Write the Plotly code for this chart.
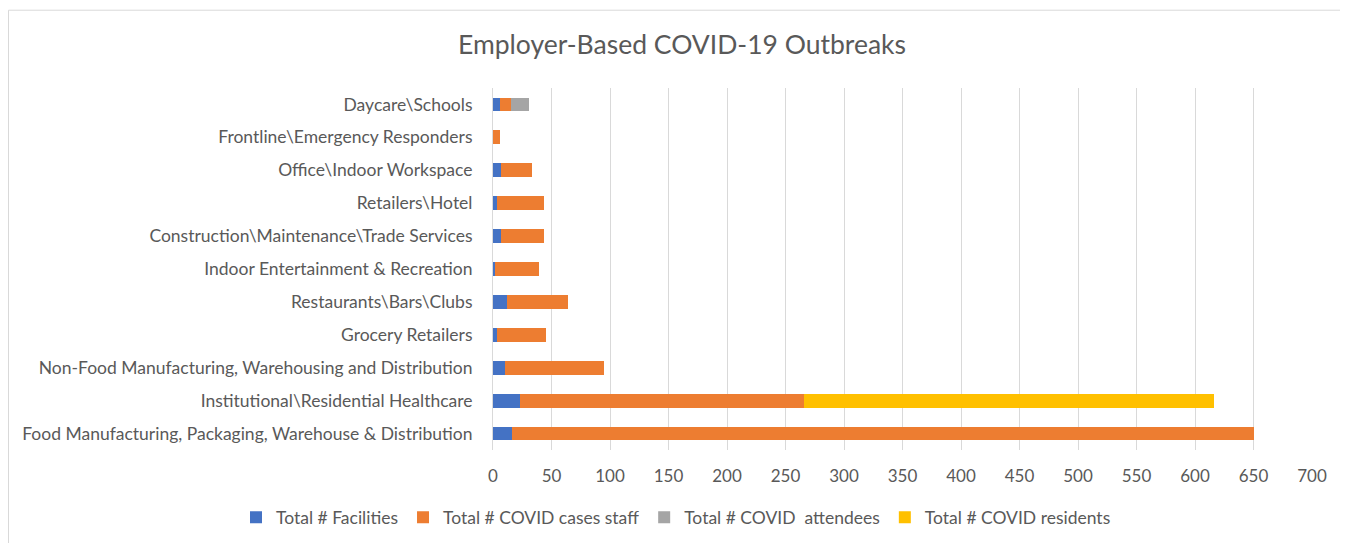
import plotly.graph_objects as go

categories = [
    "Daycare\\Schools",
    "Frontline\\Emergency Responders",
    "Office\\Indoor Workspace",
    "Retailers\\Hotel",
    "Construction\\Maintenance\\Trade Services",
    "Indoor Entertainment & Recreation",
    "Restaurants\\Bars\\Clubs",
    "Grocery Retailers",
    "Non-Food Manufacturing, Warehousing and Distribution",
    "Institutional\\Residential Healthcare",
    "Food Manufacturing, Packaging, Warehouse & Distribution",
]
facilities = [6, 0, 7, 3, 7, 2, 12, 3, 10, 23, 16]
staff_cases = [9, 6, 26, 41, 37, 37, 52, 42, 85, 243, 634]
attendees = [16, 0, 0, 0, 0, 0, 0, 0, 0, 0, 0]
residents = [0, 0, 0, 0, 0, 0, 0, 0, 0, 350, 0]

series = [
    ("Total # Facilities", facilities, "#4472C4"),
    ("Total # COVID cases staff", staff_cases, "#ED7D31"),
    ("Total # COVID  attendees", attendees, "#A5A5A5"),
    ("Total # COVID residents", residents, "#FFC000"),
]

font_family = "Lato, 'Open Sans', sans-serif"
txt = "#595959"

W, H = 1348, 543
L, R, T, B = 485, 44, 79.5, 100.5
PW, PH = W - L - R, H - T - B

fig = go.Figure()
for name, vals, color in series:
    fig.add_trace(go.Bar(
        y=categories, x=vals, name=name, orientation="h",
        marker=dict(color=color, line=dict(width=0)),
    ))

fig.update_layout(
    barmode="stack",
    bargap=0.58,
    width=W, height=H,
    paper_bgcolor="white", plot_bgcolor="white",
    margin=dict(l=L, r=R, t=T, b=B, autoexpand=False),
    font=dict(family=font_family, color=txt, size=17),
    title=dict(text="Employer-Based COVID-19 Outbreaks", x=0.5, xref="container",
               xanchor="center", y=1 - 37 / H, yanchor="middle",
               font=dict(size=26.5, color=txt, family=font_family)),
    xaxis=dict(range=[0, 700], dtick=50, showgrid=True, gridcolor="#D9D9D9",
               gridwidth=1, zeroline=False, showline=False, automargin=False,
               tickfont=dict(size=17, color=txt), ticks="", ticklabelstandoff=14),
    yaxis=dict(autorange="reversed", showgrid=False, zeroline=False,
               showline=True, linecolor="#D9D9D9", ticks="", automargin=False,
               tickfont=dict(size=17.5, color=txt), ticklabelstandoff=16),
    legend=dict(orientation="h", xref="paper", x=(228 - L) / PW, xanchor="left",
                y=-67.5 / PH, yanchor="middle",
                font=dict(size=17.5, color=txt), traceorder="normal"),
    showlegend=True,
)
fig.add_shape(type="rect", xref="paper", yref="paper",
              x0=-(L - 0.5) / PW, x1=1 + (R + 20) / PW, y0=-(B + 20) / PH, y1=1 + (T - 1.5) / PH,
              line=dict(color="#D9D9D9", width=1), fillcolor="rgba(0,0,0,0)", layer="below")

fig.write_html("out.html")
